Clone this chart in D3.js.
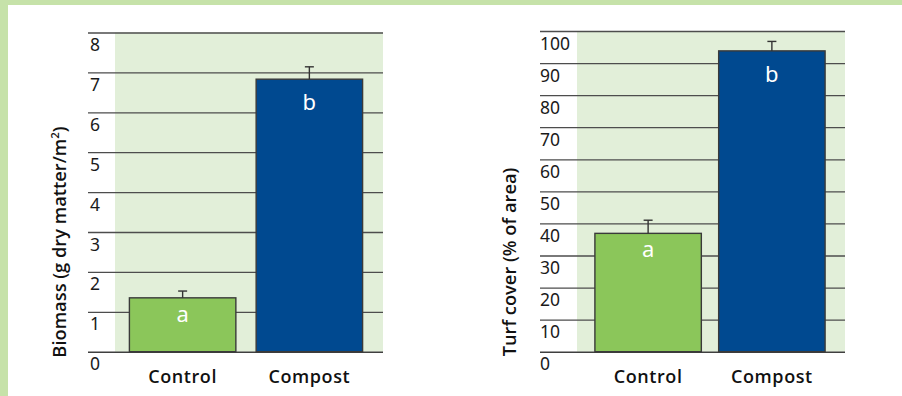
<!DOCTYPE html>
<html>
<head>
<meta charset="utf-8">
<script src="https://cdn.jsdelivr.net/npm/d3@7"></script>
<style>
  html, body { margin: 0; padding: 0; background: #ffffff; }
  svg { display: block; }
  text { font-family: "Noto Sans", "DejaVu Sans", sans-serif; }
</style>
</head>
<body>
<div id="chart"></div>
<script>
// ---- data ----
const categories = ["Control", "Compost"];
const biomassValues = [1.35, 6.83];
const biomassErrors = [0.17, 0.31];
const biomassLetters = ["a", "b"];
const biomassTicks = [0, 1, 2, 3, 4, 5, 6, 7, 8];

const turfValues = [36.9, 93.8];
const turfErrors = [4.1, 2.95];
const turfLetters = ["a", "b"];
const turfTicks = [0, 10, 20, 30, 40, 50, 60, 70, 80, 90, 100];

const barColors = ["#8bc65a", "#004990"];

// ---- drawing ----
const W = 902, H = 396;
const svg = d3.select("#chart").append("svg").attr("width", W).attr("height", H);

// page frame bands
svg.append("rect").attr("x", 0).attr("y", 0).attr("width", W).attr("height", 5).attr("fill", "#c6e2a9");
svg.append("rect").attr("x", 0).attr("y", 0).attr("width", 8).attr("height", H).attr("fill", "#c6e2a9");

function panel(cfg) {
  const g = svg.append("g");
  const y = d3.scaleLinear().domain([0, cfg.max]).range([351.7, cfg.top]);
  const x = d3.scaleBand().domain(categories).range(cfg.bandRange)
    .paddingInner(cfg.padIn).paddingOuter(cfg.padOut);

  // plot background
  g.append("rect")
    .attr("x", cfg.bgX0).attr("y", y(cfg.max) + cfg.bgTopOff)
    .attr("width", cfg.gridX1 - cfg.bgX0).attr("height", y(0) - y(cfg.max) - cfg.bgTopOff)
    .attr("fill", "#e2efd9");

  // gridlines (left axis with long ticks)
  const axis = d3.axisLeft(y).tickValues(cfg.ticks)
    .tickSize(-(cfg.gridX1 - cfg.gridX0)).tickFormat(d3.format("d"));
  const ag = g.append("g").attr("transform", `translate(${cfg.gridX0},0)`).call(axis);
  ag.attr("font-family", null).attr("font-size", null);
  ag.select(".domain").remove();
  ag.selectAll(".tick line").attr("stroke", d => d === 0 ? "#3f3f3f" : "#4d4d4d")
    .attr("stroke-width", d => d === 0 ? 1.6 : 1.3);
  ag.selectAll(".tick text")
    .attr("x", cfg.labelDx).attr("dy", null).attr("y", 18)
    .attr("text-anchor", "start")
    .attr("fill", "#1a1a1a").attr("font-size", 17.5).attr("font-weight", 400);

  // bars
  g.selectAll("rect.bar").data(categories).enter().append("rect")
    .attr("class", "bar")
    .attr("x", d => x(d)).attr("width", x.bandwidth())
    .attr("y", (d, i) => y(cfg.values[i]))
    .attr("height", (d, i) => y(0) - y(cfg.values[i]))
    .attr("fill", (d, i) => barColors[i])
    .attr("stroke", "#3a3a3a").attr("stroke-width", 1.4);

  // error bars (upper half)
  categories.forEach((c, i) => {
    const cx = x(c) + x.bandwidth() / 2;
    const yt = y(cfg.values[i] + cfg.errors[i]);
    g.append("line").attr("x1", cx).attr("x2", cx)
      .attr("y1", y(cfg.values[i])).attr("y2", yt)
      .attr("stroke", "#333").attr("stroke-width", 1.4);
    g.append("line").attr("x1", cx - 4.5).attr("x2", cx + 4.5)
      .attr("y1", yt).attr("y2", yt)
      .attr("stroke", "#333").attr("stroke-width", 1.4);
    // significance letter
    const asc = /[bdfhklt]/.test(cfg.letters[i]);
    g.append("text").attr("x", cx).attr("y", y(cfg.values[i]) + (asc ? 31 : 24))
      .attr("text-anchor", "middle").attr("fill", "#ffffff")
      .attr("font-size", 22).attr("font-weight", 400)
      .text(cfg.letters[i]);
  });

  // category labels
  g.selectAll("text.cat").data(categories).enter().append("text")
    .attr("class", "cat")
    .attr("x", d => x(d) + x.bandwidth() / 2 + cfg.catDx)
    .attr("y", 383)
    .attr("text-anchor", "middle").attr("fill", "#111")
    .style("font-family", "'Open Sans', 'Noto Sans', sans-serif")
    .attr("font-size", 18).attr("font-weight", 600).attr("letter-spacing", 0.6)
    .text(d => d);

  // y title
  const t = g.append("text")
    .attr("transform", `translate(${cfg.titleX},${cfg.titleY}) rotate(-90)`)
    .attr("text-anchor", "middle").attr("fill", "#111")
    .style("font-family", "'Open Sans', 'Noto Sans', sans-serif")
    .attr("font-size", 18.3).attr("font-weight", 600);
  cfg.title(t);
}

panel({
  max: 8, top: 32.5, ticks: biomassTicks,
  values: biomassValues, errors: biomassErrors, letters: biomassLetters,
  gridX0: 88, gridX1: 383, bgX0: 115, bgTopOff: 0, labelDx: 2,
  bandRange: [118, 374], padIn: 0.16, padOut: 0.09, catDx: 0,
  titleX: 66, titleY: 242,
  title: t => {
    t.append("tspan").text("Biomass (g dry matter/m");
    t.append("tspan").attr("font-size", 11.5).attr("dy", -7.5).text("2");
    t.append("tspan").attr("dy", 7.5).text(")");
  }
});

panel({
  max: 100, top: 31, ticks: turfTicks,
  values: turfValues, errors: turfErrors, letters: turfLetters,
  gridX0: 540, gridX1: 845, bgX0: 577, bgTopOff: 1, labelDx: 0,
  bandRange: [585, 835], padIn: 0.14, padOut: 0.08, catDx: 0,
  titleX: 516, titleY: 262,
  title: t => { t.text("Turf cover (% of area)"); }
});
</script>
</body>
</html>
